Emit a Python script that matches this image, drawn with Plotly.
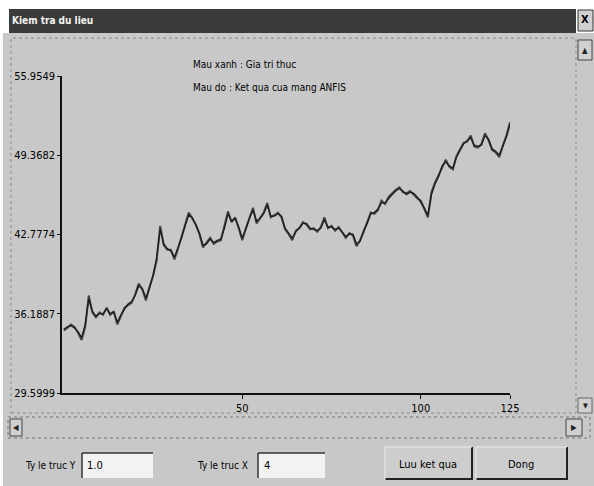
import plotly.graph_objects as go

# ---------------- data ----------------
x_index = list(range(0, 126))
gia_tri_thuc = [
    34.8, 35.0, 35.3, 35.1, 34.6, 34.0, 35.1, 37.7, 36.3, 35.9,
    36.3, 36.1, 36.7, 36.1, 36.4, 35.3, 36.0, 36.7, 36.9, 37.1,
    37.8, 38.7, 38.2, 37.3, 38.4, 39.3, 40.6, 43.5, 41.9, 41.5,
    41.5, 40.7, 41.6, 42.6, 43.6, 44.6, 44.1, 43.6, 42.8, 41.7,
    42.1, 42.5, 42.0, 42.2, 42.3, 43.4, 44.7, 43.8, 44.2, 43.3,
    42.3, 43.3, 44.2, 45.0, 43.7, 44.2, 44.6, 45.4, 44.2, 44.4,
    44.6, 44.2, 43.2, 42.8, 42.3, 43.1, 43.3, 43.8, 43.6, 43.2,
    43.3, 43.0, 43.4, 44.2, 43.3, 43.5, 43.1, 43.4, 42.9, 42.5,
    42.9, 42.7, 41.8, 42.3, 43.0, 43.8, 44.6, 44.5, 44.8, 45.6,
    45.3, 45.9, 46.2, 46.5, 46.7, 46.3, 46.2, 46.4, 46.1, 45.8,
    45.6, 44.9, 44.2, 46.3, 47.1, 47.7, 48.4, 49.0, 48.4, 48.2,
    49.3, 49.9, 50.4, 50.5, 51.0, 50.1, 50.0, 50.3, 51.2, 50.6,
    49.8, 49.6, 49.2, 50.2, 51.0, 52.1,
]
ket_qua_anfis = [
    34.9, 35.1, 35.2, 35.0, 34.7, 34.2, 35.3, 37.4, 36.4, 36.0,
    36.2, 36.2, 36.6, 36.2, 36.3, 35.5, 36.1, 36.6, 37.0, 37.2,
    37.7, 38.5, 38.3, 37.5, 38.3, 39.4, 40.8, 43.2, 42.0, 41.6,
    41.4, 40.9, 41.7, 42.5, 43.5, 44.4, 44.2, 43.5, 42.9, 41.9,
    42.0, 42.4, 42.1, 42.3, 42.4, 43.3, 44.5, 43.9, 44.1, 43.4,
    42.5, 43.2, 44.1, 44.8, 43.9, 44.1, 44.5, 45.2, 44.3, 44.3,
    44.5, 44.3, 43.3, 42.9, 42.5, 43.0, 43.4, 43.7, 43.7, 43.3,
    43.2, 43.1, 43.3, 44.0, 43.4, 43.4, 43.2, 43.3, 43.0, 42.6,
    42.8, 42.8, 42.0, 42.2, 43.1, 43.7, 44.5, 44.6, 44.9, 45.4,
    45.4, 45.8, 46.1, 46.4, 46.6, 46.4, 46.1, 46.3, 46.2, 45.9,
    45.5, 45.0, 44.4, 46.1, 47.0, 47.6, 48.5, 48.8, 48.5, 48.3,
    49.2, 49.8, 50.3, 50.6, 50.8, 50.2, 50.1, 50.2, 51.0, 50.7,
    49.9, 49.7, 49.4, 50.1, 50.9, 51.9,
]
y_tick_vals = [29.5999, 36.1887, 42.7774, 49.3682, 55.9549]
y_tick_text = ["29.5999", "36.1887", "42.7774", "49.3682", "55.9549"]
x_tick_vals = [50, 100, 125]
x_tick_text = ["50", "100", "125"]

# ---------------- layout geometry ----------------
W, H = 594, 486
L, R, T, B = 62, 84, 76, 93
PW, PH = W - L - R, H - T - B

def px(v):
    return (v - L) / PW

def py(v):
    return (H - B - v) / PH

GRAY = "#c8c8c8"
FONT = "DejaVu Sans Condensed, Liberation Sans, sans-serif"

fig = go.Figure()
fig.add_trace(go.Scatter(x=x_index, y=gia_tri_thuc, mode="lines",
                         line=dict(color="#444444", width=2),
                         name="Gia tri thuc", hoverinfo="skip"))
fig.add_trace(go.Scatter(x=x_index, y=ket_qua_anfis, mode="lines",
                         line=dict(color="#1e1e1e", width=1.3),
                         name="ANFIS", hoverinfo="skip"))

shapes = []
def rect(x0, y0, x1, y1, fill=None, line_color=None, lw=1, dash=None, layer="below"):
    d = dict(type="rect", xref="paper", yref="paper",
             x0=px(x0), x1=px(x1), y0=py(y1), y1=py(y0), layer=layer,
             line=dict(width=lw if line_color else 0, color=line_color or "rgba(0,0,0,0)"))
    if dash:
        d["line"]["dash"] = dash
    if fill:
        d["fillcolor"] = fill
    shapes.append(d)

def hline(x0, x1, y, color, lw=1, layer="above"):
    shapes.append(dict(type="line", xref="paper", yref="paper",
                       x0=px(x0), x1=px(x1), y0=py(y), y1=py(y),
                       line=dict(color=color, width=lw), layer=layer))

def vline(x, y0, y1, color, lw=1, layer="above"):
    shapes.append(dict(type="line", xref="paper", yref="paper",
                       x0=px(x), x1=px(x), y0=py(y0), y1=py(y1),
                       line=dict(color=color, width=lw), layer=layer))

# window body
rect(3, 33, 594, 486, fill=GRAY)
# title bar
rect(9, 9, 576, 33, fill="#3b3b3b")
# close button
rect(578, 10, 593, 31, fill="#d0d0d0", line_color="#333", lw=1)
# chart panel border
rect(11, 38, 576, 413, line_color="#8a8a8a", lw=1, dash="dot")
# vertical scrollbar buttons
rect(578, 40, 592, 60, fill="#d0d0d0", line_color="#444", lw=1)
rect(578, 398, 592, 413, fill="#d0d0d0", line_color="#666", lw=1)
# horizontal scrollbar
rect(8, 417, 590, 438, line_color="#777", lw=1, dash="dot")
rect(10, 419, 22, 436, fill="#d0d0d0", line_color="#444", lw=1)
rect(566, 419, 582, 436, fill="#d0d0d0", line_color="#444", lw=1)
# text boxes
rect(82, 453, 153, 478, fill="#f2f2f2")
hline(82, 153, 453, "#333", 1.5)
vline(82, 453, 478, "#333", 1.5)
rect(258, 453, 325, 478, fill="#f2f2f2")
hline(258, 325, 453, "#333", 1.5)
vline(258, 453, 478, "#333", 1.5)
# buttons
for x0, x1 in [(385, 472), (476, 567)]:
    rect(x0, 447, x1, 480, fill="#cdcdcd")
    hline(x0, x1, 479, "#222", 2)
    vline(x1, 447, 480, "#222", 2)
    hline(x0, x1, 447, "#eeeeee", 1)
    vline(x0, 447, 480, "#eeeeee", 1)

annotations = []
def text(x, y, s, size=11, color="#000", xanchor="left", bold=False):
    annotations.append(dict(xref="paper", yref="paper", x=px(x), y=py(y), text=("<b>%s</b>" % s) if bold else s,
                            showarrow=False, xanchor=xanchor, yanchor="middle",
                            font=dict(family=FONT, size=size, color=color)))

text(10, 21, "Kiem tra du lieu", 10, "#f4f4f4", bold=True)
text(585, 20, "X", 11, "#000", xanchor="center", bold=True)
text(191, 64, "Mau xanh : Gia tri thuc", 10)
text(191, 87, "Mau do : Ket qua cua mang ANFIS", 10)
text(585, 50, "▲", 8, "#222", xanchor="center")
text(585, 406, "▼", 7, "#222", xanchor="center")
text(16, 427, "◀", 8, "#222", xanchor="center")
text(574, 427, "▶", 8, "#222", xanchor="center")
text(23, 466, "Ty le truc Y", 10)
text(85, 466, "1.0", 11)
text(195, 466, "Ty le truc X", 10)
text(262, 466, "4", 11)
text(428, 464, "Luu ket qua", 11, xanchor="center")
text(521, 464, "Dong", 11, xanchor="center")

fig.update_layout(
    width=W, height=H,
    margin=dict(l=L, r=R, t=T, b=B, pad=0),
    paper_bgcolor="#ffffff",
    plot_bgcolor=GRAY,
    showlegend=False,
    shapes=shapes,
    annotations=annotations,
    font=dict(family=FONT, size=11, color="#000"),
)
fig.update_xaxes(range=[-0.5, 125], showgrid=False, zeroline=False,
                 showline=True, linecolor="#111", linewidth=1.5,
                 ticks="outside", ticklen=4, tickcolor="#111",
                 tickvals=x_tick_vals, ticktext=x_tick_text,
                 tickfont=dict(family=FONT, size=11, color="#000"))
fig.update_yaxes(range=[29.5999, 55.9549], showgrid=False, zeroline=False,
                 showline=True, linecolor="#111", linewidth=1.5,
                 ticks="outside", ticklen=3, tickcolor="#111",
                 tickvals=y_tick_vals, ticktext=y_tick_text,
                 tickfont=dict(family=FONT, size=11, color="#000"))

fig.write_html("out.html",
               config={"displayModeBar": False},
               post_script="document.body.style.margin='0px';document.body.style.overflow='hidden';")
